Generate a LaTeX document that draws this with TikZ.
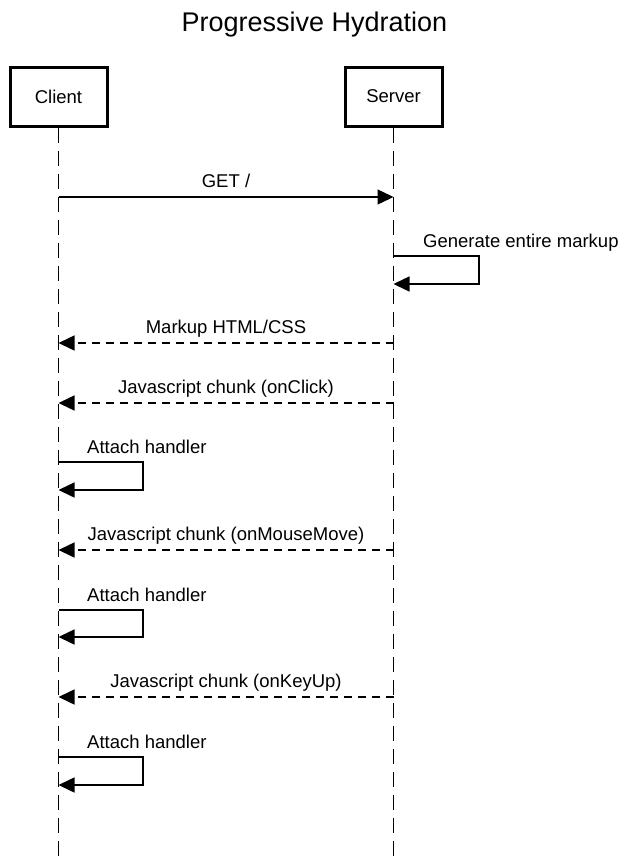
\documentclass[tikz,border=0pt]{standalone}
\usepackage{fontspec}
\setmainfont{Liberation Sans}
\usetikzlibrary{arrows.meta}
\begin{document}
\begin{tikzpicture}[x=1pt,y=-1pt,
  actor/.style={draw=black,line width=3pt,fill=white,minimum width=97pt,minimum height=59pt,inner sep=0pt,font=\fontsize{18.5}{22}\selectfont},
  lifeline/.style={line width=1.7pt,dash pattern=on 15pt off 8pt},
  call/.style={line width=1.5pt,-{Triangle[length=16pt,width=15pt]}},
  reply/.style={line width=1.5pt,dash pattern=on 8pt off 6pt,-{Triangle[length=16pt,width=15pt]}},
  selfcall/.style={line width=1.5pt,line join=miter,-{Triangle[length=16pt,width=15pt]}},
  msglabel/.style={anchor=base,inner sep=0pt,font=\fontsize{18.5}{22}\selectfont},
  selflabel/.style={anchor=base west,inner sep=0pt,font=\fontsize{18.5}{22}\selectfont},
  titlestyle/.style={anchor=base,inner sep=0pt,font=\fontsize{27}{32}\selectfont}]
\useasboundingbox (0,0) rectangle (629,860);
\fill[white] (0,0) rectangle (629,860);
% title
\node[titlestyle] (title) at (314.5,31) {Progressive Hydration};
% lifelines
\coordinate (cend) at (58.5,860);
\coordinate (send) at (393.5,860);
\node[actor] (client) at (58.5,96.5) {Client};
\node[actor] (server) at (393.5,96.5) {Server};
\draw[lifeline] (client.south) -- (cend);
\draw[lifeline] (server.south) -- (send);
\node[actor] at (client) {Client};
\node[actor] at (server) {Server};
% GET /
\coordinate (c1) at (58.5,197);
\coordinate (s1) at (393.5,197);
\draw[call] (c1) -- (s1);
\node[msglabel] (l1) at (226,187) {GET /};
% Generate entire markup
\coordinate (s2a) at (393.5,256);
\coordinate (s2b) at (479,256);
\coordinate (s2c) at (479,284);
\coordinate (s2d) at (393.5,284);
\draw[selfcall] (s2a) -- (s2b) -- (s2c) -- (s2d);
\node[selflabel] (l2) at (423,247) {Generate entire markup};
% Markup HTML/CSS
\coordinate (s3) at (393.5,343);
\coordinate (c3) at (58.5,343);
\draw[reply] (s3) -- (c3);
\node[msglabel] (l3) at (226,333) {Markup HTML/CSS};
% Javascript chunk (onClick)
\coordinate (s4) at (393.5,403);
\coordinate (c4) at (58.5,403);
\draw[reply] (s4) -- (c4);
\node[msglabel] (l4) at (226,393) {Javascript chunk (onClick)};
% Attach handler 1
\coordinate (c5a) at (58.5,462);
\coordinate (c5b) at (143,462);
\coordinate (c5c) at (143,490);
\coordinate (c5d) at (58.5,490);
\draw[selfcall] (c5a) -- (c5b) -- (c5c) -- (c5d);
\node[selflabel] (l5) at (87,453) {Attach handler};
% Javascript chunk (onMouseMove)
\coordinate (s6) at (393.5,550);
\coordinate (c6) at (58.5,550);
\draw[reply] (s6) -- (c6);
\node[msglabel] (l6) at (226,540) {Javascript chunk (onMouseMove)};
% Attach handler 2
\coordinate (c7a) at (58.5,610);
\coordinate (c7b) at (143,610);
\coordinate (c7c) at (143,637);
\coordinate (c7d) at (58.5,637);
\draw[selfcall] (c7a) -- (c7b) -- (c7c) -- (c7d);
\node[selflabel] (l7) at (87,601) {Attach handler};
% Javascript chunk (onKeyUp)
\coordinate (s8) at (393.5,697);
\coordinate (c8) at (58.5,697);
\draw[reply] (s8) -- (c8);
\node[msglabel] (l8) at (226,687) {Javascript chunk (onKeyUp)};
% Attach handler 3
\coordinate (c9a) at (58.5,757);
\coordinate (c9b) at (143,757);
\coordinate (c9c) at (143,785);
\coordinate (c9d) at (58.5,785);
\draw[selfcall] (c9a) -- (c9b) -- (c9c) -- (c9d);
\node[selflabel] (l9) at (87,748) {Attach handler};
\end{tikzpicture}
\end{document}
